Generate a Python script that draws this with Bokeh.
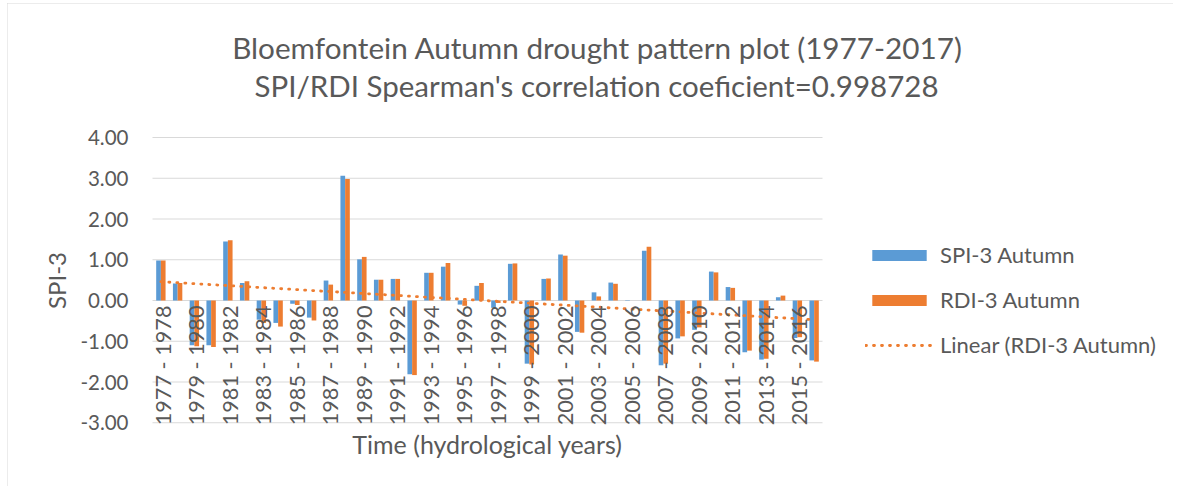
import numpy as np
from bokeh.plotting import figure
from bokeh.models import (ColumnDataSource, LabelSet, Label, Legend, LegendItem,
                          Range1d)
from bokeh.core.properties import value
from bokeh.embed import file_html
from bokeh.resources import INLINE

periods = ["1977 - 1978", "1978 - 1979", "1979 - 1980", "1980 - 1981", "1981 - 1982",
           "1982 - 1983", "1983 - 1984", "1984 - 1985", "1985 - 1986", "1986 - 1987",
           "1987 - 1988", "1988 - 1989", "1989 - 1990", "1990 - 1991", "1991 - 1992",
           "1992 - 1993", "1993 - 1994", "1994 - 1995", "1995 - 1996", "1996 - 1997",
           "1997 - 1998", "1998 - 1999", "1999 - 2000", "2000 - 2001", "2001 - 2002",
           "2002 - 2003", "2003 - 2004", "2004 - 2005", "2005 - 2006", "2006 - 2007",
           "2007 - 2008", "2008 - 2009", "2009 - 2010", "2010 - 2011", "2011 - 2012",
           "2012 - 2013", "2013 - 2014", "2014 - 2015", "2015 - 2016", "2016 - 2017"]

spi = [0.98, 0.42, -1.10, -1.10, 1.45, 0.43, -0.47, -0.55, -0.08, -0.42,
       0.49, 3.06, 1.01, 0.51, 0.53, -1.81, 0.68, 0.83, -0.10, 0.36,
       -0.18, 0.90, -1.55, 0.53, 1.13, -0.77, 0.20, 0.44, 0.01, 1.22,
       -1.59, -0.93, -0.72, 0.71, 0.33, -1.27, -1.45, 0.08, -0.92, -1.47]

rdi = [0.98, 0.43, -1.12, -1.14, 1.48, 0.47, -0.55, -0.64, -0.11, -0.49,
       0.39, 2.98, 1.07, 0.51, 0.53, -1.83, 0.68, 0.92, -0.13, 0.43,
       -0.06, 0.91, -1.57, 0.54, 1.10, -0.79, 0.10, 0.41, 0.00, 1.32,
       -1.55, -0.88, -0.66, 0.69, 0.31, -1.23, -1.43, 0.12, -0.90, -1.50]

y_ticks = [-3, -2, -1, 0, 1, 2, 3, 4]
y_tick_labels = ["-3.00", "-2.00", "-1.00", "0.00", "1.00", "2.00", "3.00", "4.00"]

title1 = "Bloemfontein Autumn drought pattern plot (1977-2017)"
title2 = "SPI/RDI Spearman's correlation coeficient=0.998728"
y_title = "SPI-3"
x_title = "Time (hydrological years)"

FONT = "Lato"
GRAY = "#595959"
BLUE = "#5B9BD5"
ORANGE = "#ED7D31"
GRID = "#D9D9D9"

# layout: the figure sits at page (OX, OY); the frame fills the whole figure
OX, OY = 7, 3
W, H = 1166, 483
PLOT_LEFT = 152                   # page x of the category axis start
CAT_PX = 16.75                    # width of one category
UNIT_PX = 40.75                   # pixels per SPI unit
ZERO_Y = 300                      # page y of the zero line
x0 = -0.5 - (PLOT_LEFT - OX) / CAT_PX
x1 = x0 + W / CAT_PX
y1 = (ZERO_Y - OY) / UNIT_PX
y0 = y1 - H / UNIT_PX

idx = np.arange(len(periods))
coef = np.polyfit(idx, rdi, 1)
trend = np.polyval(coef, idx)

src = ColumnDataSource(dict(x=idx, x_spi=idx - 0.14, x_rdi=idx + 0.14,
                            spi=spi, rdi=rdi, trend=trend))

p = figure(width=W, height=H, output_backend="svg", toolbar_location=None,
           x_range=Range1d(x0, x1), y_range=Range1d(y0, y1),
           x_axis_type=None, y_axis_type=None,
           min_border_left=0, min_border_right=0, min_border_top=0,
           min_border_bottom=0)
p.outline_line_color = None
p.styles = {"margin-left": f"{OX}px", "margin-top": f"{OY}px",
            "outline": "1px solid #D9D9D9", "outline-offset": "-1px"}
p.grid.visible = False

# horizontal gridlines over the category span
p.segment(x0=[-0.5] * len(y_ticks), x1=[len(periods) - 0.5] * len(y_ticks),
          y0=y_ticks, y1=y_ticks, line_color=GRID, line_width=1.2)

# y tick labels
ytick_src = ColumnDataSource(dict(x=[-0.5] * len(y_ticks), y=y_ticks,
                                  text=y_tick_labels))
p.add_layout(LabelSet(x="x", y="y", text="text", source=ytick_src, x_offset=-24,
                      text_align="right", text_baseline="middle",
                      text_font=value(FONT), text_font_size="20.5px",
                      text_color=GRAY))

r_spi = p.vbar(x="x_spi", top="spi", bottom=0, width=0.28, source=src,
               fill_color=BLUE, line_color=None)
r_rdi = p.vbar(x="x_rdi", top="rdi", bottom=0, width=0.28, source=src,
               fill_color=ORANGE, line_color=None)
r_tr = p.line(x="x", y="trend", source=src, line_color=ORANGE, line_width=2.8,
              line_dash="1 7", line_cap="round")

# category labels (every second period), rotated, hanging below the zero line
lab_src = ColumnDataSource(dict(x=idx[::2], y=[0] * len(idx[::2]),
                                text=periods[::2]))
p.add_layout(LabelSet(x="x", y="y", text="text", source=lab_src, angle=np.pi / 2,
                      text_align="right", text_baseline="middle", y_offset=-5,
                      x_offset=2, text_font=value(FONT), text_font_size="21.7px",
                      text_color=GRAY))

def fy(page_y):
    return H - (page_y - OY)

def fx(page_x):
    return page_x - OX

p.add_layout(Label(x=fx(597), y=fy(47), x_units="screen", y_units="screen",
                   text=title1, text_align="center", text_baseline="middle",
                   text_font=FONT, text_font_size="29.7px", text_color=GRAY))
p.add_layout(Label(x=fx(596), y=fy(85), x_units="screen", y_units="screen",
                   text=title2, text_align="center", text_baseline="middle",
                   text_font=FONT, text_font_size="29.5px", text_color=GRAY))
p.add_layout(Label(x=fx(56), y=fy(280), x_units="screen", y_units="screen",
                   text=y_title, angle=np.pi / 2, text_align="center",
                   text_baseline="middle", text_font=FONT, text_font_size="24px",
                   text_color=GRAY))
p.add_layout(Label(x=fx(487), y=fy(443), x_units="screen", y_units="screen",
                   text=x_title, text_align="center", text_baseline="middle",
                   text_font=FONT, text_font_size="25px", text_color=GRAY))

legend = Legend(items=[LegendItem(label="SPI-3 Autumn", renderers=[r_spi]),
                       LegendItem(label="RDI-3 Autumn", renderers=[r_rdi]),
                       LegendItem(label="Linear (RDI-3 Autumn)", renderers=[r_tr])],
                location=(fx(865), fy(358)), glyph_width=68,
                glyph_height=14, label_standoff=7, spacing=18, padding=0, margin=0,
                border_line_color=None, background_fill_alpha=0,
                label_text_font=FONT, label_text_font_size="22px",
                label_text_color=GRAY)
p.add_layout(legend)

open("out.html", "w").write(file_html(p, INLINE))
